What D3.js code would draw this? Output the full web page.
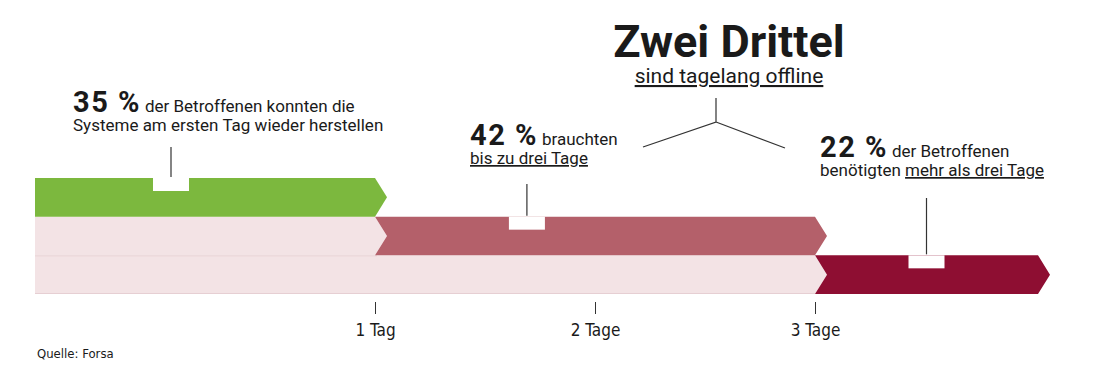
<!DOCTYPE html>
<html>
<head>
<meta charset="utf-8">
<script src="https://cdn.jsdelivr.net/npm/d3@7"></script>
<style>
	body { margin: 0; background: #fff; }
	svg text { font-family: Roboto, "Noto Sans", sans-serif; fill: #1a1a1a; }
	.big { font-weight: 700; }
	.tick text { font-family: "Liberation Sans Narrow", "DejaVu Sans Condensed", sans-serif; }
</style>
</head>
<body>
<div id="chart"></div>
<script>
// data
var categories = ['am ersten Tag', 'bis zu drei Tage', 'mehr als drei Tage'];
var shares = [35, 42, 22];
var markerAt = [14, 49.5, 88];          // where the leader line hits each bar (percent axis)
var dayTicks = [1, 2, 3];
var dayLabels = ['1 Tag', '2 Tage', '3 Tage'];
var colors = ['#7cb83e', '#b4606a', '#8e0e32'];
var bgColor = '#f3e3e5';

var width = 1109, height = 370;
var svg = d3.select('#chart').append('svg')
	.attr('width', width)
	.attr('height', height);

// cumulative positions
var cum = [0];
shares.forEach(function (s, i) { cum.push(cum[i] + s); });

// the graphic is not strictly proportional, so map each boundary
var x = d3.scaleLinear()
	.domain(cum)
	.range([35, 375, 815, 1038]);

var y = d3.scaleBand()
	.domain(d3.range(categories.length))
	.range([178, 294]);

var tip = 12;
var bh = y.bandwidth();

// arrow shape: x0..x1 with optional chevron notch on the left
function arrow(x0, x1, y0, notch) {
	var m = y0 + bh / 2;
	var p = [[x0, y0], [x1, y0], [x1 + tip, m], [x1, y0 + bh], [x0, y0 + bh]];
	if (notch) p.push([x0 + tip, m]);
	return 'M' + p.map(function (d) { return d.join(','); }).join('L') + 'Z';
}

// light background rows (rows 2 and 3)
svg.append('g').selectAll('path')
	.data(d3.range(1, categories.length))
	.join('path')
	.attr('d', function (i) { return arrow(x(0), x(cum[i]), y(i), false); })
	.attr('fill', bgColor);

svg.append('line')
	.attr('x1', x(0)).attr('x2', x(cum[1]) + 2)
	.attr('y1', y(2) + 0.5).attr('y2', y(2) + 0.5)
	.attr('stroke', '#e8d2d5');

svg.append('line')
	.attr('x1', x(0)).attr('x2', x(cum[2]))
	.attr('y1', y(2) + bh - 0.5).attr('y2', y(2) + bh - 0.5)
	.attr('stroke', '#e6cfd3');

// coloured bars
svg.append('g').selectAll('path')
	.data(shares)
	.join('path')
	.attr('d', function (d, i) { return arrow(x(cum[i]), x(cum[i + 1]), y(i), i > 0); })
	.attr('fill', function (d, i) { return colors[i]; });

// white notches + leader lines
var lineTop = [147, 184, 198];
svg.append('g').selectAll('rect')
	.data(markerAt)
	.join('rect')
	.attr('x', function (d) { return x(d) - 18; })
	.attr('y', function (d, i) { return y(i); })
	.attr('width', 36)
	.attr('height', 13)
	.attr('fill', '#fff');

svg.append('g').selectAll('line')
	.data(markerAt)
	.join('line')
	.attr('x1', function (d) { return x(d); })
	.attr('x2', function (d) { return x(d); })
	.attr('y1', function (d, i) { return lineTop[i]; })
	.attr('y2', function (d, i) { return y(i) - 1; })
	.attr('stroke', '#333')
	.attr('stroke-width', 1.2);

// axis
var days = d3.scaleLinear().domain([1, 3]).range([x(cum[1]), x(cum[2])]);
var axis = svg.append('g')
	.attr('transform', 'translate(0,302)')
	.call(d3.axisBottom(days)
		.tickValues(dayTicks)
		.tickFormat(function (d, i) { return dayLabels[i]; })
		.tickSize(12)
		.tickPadding(10));
axis.select('.domain').remove();
axis.selectAll('.tick line').attr('stroke', '#333');
axis.selectAll('.tick text').attr('font-size', 17).attr('fill', '#1a1a1a');

// annotations
function note(x0, y0, big, rest1, line2) {
	var t = svg.append('text').attr('x', x0).attr('y', y0);
	t.append('tspan').attr('class', 'big').attr('font-size', 29).attr('letter-spacing', 1.5).text(big);
	t.append('tspan').attr('font-size', 17).attr('dx', 4).text(rest1);
	var t2 = svg.append('text').attr('x', x0).attr('y', y0 + 19).attr('font-size', 17);
	line2.forEach(function (p) {
		t2.append('tspan')
			.style('text-decoration', p.u ? 'underline' : null)
			.text(p.t);
	});
}

note(73, 112, shares[0] + ' %', 'der Betroffenen konnten die',
	[{ t: 'Systeme am ersten Tag wieder herstellen' }]);
note(470, 145, shares[1] + ' %', 'brauchten',
	[{ t: 'bis zu drei Tage', u: true }]);
note(820, 157, shares[2] + ' %', 'der Betroffenen',
	[{ t: 'benötigten ' }, { t: 'mehr als drei Tage', u: true }]);

// headline
svg.append('text')
	.attr('class', 'big')
	.attr('x', 729).attr('y', 57)
	.attr('text-anchor', 'middle')
	.attr('font-size', 45)
	.text('Zwei Drittel');
svg.append('text')
	.attr('x', 729).attr('y', 83)
	.attr('text-anchor', 'middle')
	.attr('font-size', 21)
	.style('text-decoration', 'underline')
	.text('sind tagelang offline');

// bracket from headline to bars 2 and 3
svg.append('path')
	.attr('d', 'M716,98V122L643,147M716,122L785,148')
	.attr('fill', 'none')
	.attr('stroke', '#333')
	.attr('stroke-width', 1.2);

// source
svg.append('text')
	.attr('x', 37).attr('y', 358)
	.attr('font-size', 13)
	.style('font-family', '"Liberation Sans Narrow", "DejaVu Sans Condensed", sans-serif')
	.text('Quelle: Forsa');
</script>
</body>
</html>
